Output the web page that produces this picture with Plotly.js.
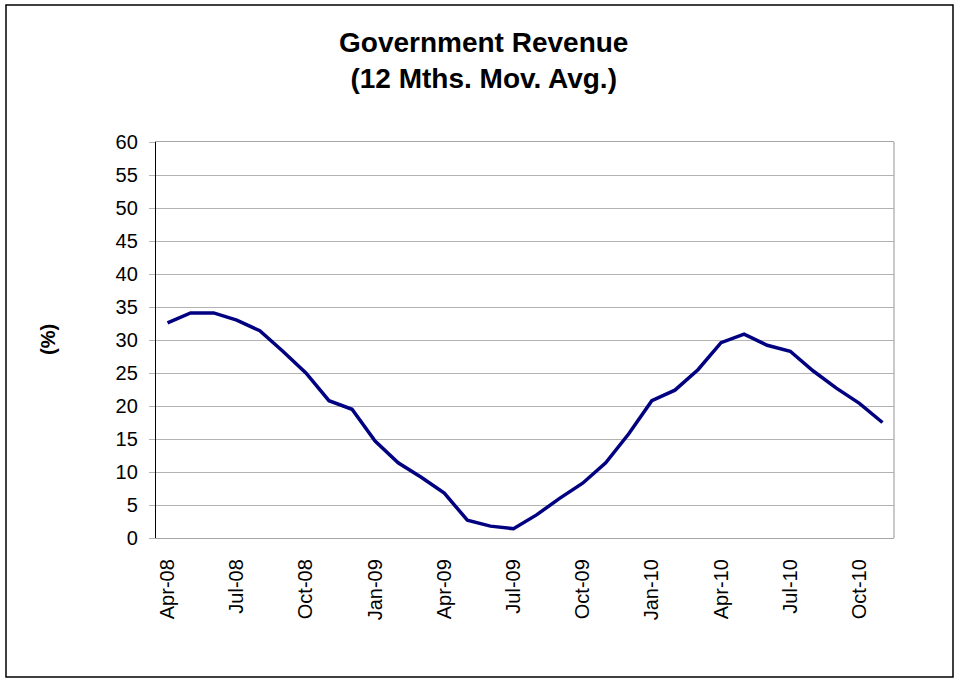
<!DOCTYPE html>
<html>
<head>
<meta charset="utf-8">
<script src="https://cdn.plot.ly/plotly-3.0.1.min.js"></script>
<style>
html,body{margin:0;padding:0;background:#fff;}
#chart{width:956px;height:679px;}
</style>
</head>
<body>
<div id="chart"></div>
<script>
const months = ["Apr-08","May-08","Jun-08","Jul-08","Aug-08","Sep-08","Oct-08","Nov-08","Dec-08",
  "Jan-09","Feb-09","Mar-09","Apr-09","May-09","Jun-09","Jul-09","Aug-09","Sep-09","Oct-09","Nov-09","Dec-09",
  "Jan-10","Feb-10","Mar-10","Apr-10","May-10","Jun-10","Jul-10","Aug-10","Sep-10","Oct-10","Nov-10"];
const revenue = [32.6,34.1,34.1,33.0,31.4,28.3,25.0,20.8,19.5,
  14.7,11.4,9.2,6.8,2.7,1.8,1.4,3.5,6.0,8.3,11.4,15.8,
  20.8,22.4,25.5,29.6,30.9,29.2,28.3,25.3,22.7,20.4,17.5];
const tickLabels = ["Apr-08","Jul-08","Oct-08","Jan-09","Apr-09","Jul-09","Oct-09","Jan-10","Apr-10","Jul-10","Oct-10"];
const yTicks = [0,5,10,15,20,25,30,35,40,45,50,55,60];

const W = 956, H = 679;
const m = {l:156, r:62, t:142, b:141};
const pw = W - m.l - m.r, ph = H - m.t - m.b;
const px = v => (v - m.l) / pw;
const py = v => (H - m.b - v) / ph;

const trace = {
  x: months, y: revenue, type: 'scatter', mode: 'lines',
  line: {color: '#000080', width: 3.5},
  hoverinfo: 'x+y'
};

const layout = {
  width: W, height: H,
  margin: m,
  paper_bgcolor: '#fff', plot_bgcolor: '#fff',
  showlegend: false,
  font: {family: 'Liberation Sans, Arial, sans-serif', color: '#000', size: 20},
  xaxis: {
    type: 'category',
    categoryorder: 'array', categoryarray: months,
    tickmode: 'array', tickvals: tickLabels, ticktext: tickLabels,
    tickangle: -90,
    tickfont: {size: 20},
    ticklabelstandoff: 12,
    showgrid: false,
    showline: true, linecolor: '#a6a6a6', linewidth: 1.2, mirror: true,
    ticks: '', zeroline: false,
    range: [-0.5, months.length - 0.5]
  },
  yaxis: {
    range: [0, 60],
    tickmode: 'array', tickvals: yTicks,
    tickfont: {size: 20},
    ticklabelstandoff: 7,
    showgrid: true, gridcolor: '#b3b3b3', gridwidth: 1,
    showline: true, linecolor: '#000', linewidth: 1.2,
    ticks: 'outside', ticklen: 6, tickcolor: '#b3b3b3',
    zeroline: false
  },
  annotations: [
    {
      text: '<b>Government Revenue<br>(12 Mths. Mov. Avg.)</b>',
      xref: 'paper', yref: 'paper', x: px(483), y: py(61),
      xanchor: 'center', yanchor: 'middle', showarrow: false,
      font: {size: 28}
    },
    {
      text: '<b>(%)</b>', xref: 'paper', yref: 'paper',
      x: px(48), y: py(340), showarrow: false, textangle: -90,
      font: {size: 20}, xanchor: 'center', yanchor: 'middle'
    }
  ],
  shapes: [
    {type: 'line', xref: 'paper', yref: 'paper', x0: 1, x1: 1, y0: 0, y1: 1,
     line: {color: '#a6a6a6', width: 1.2}},
    {type: 'rect', xref: 'paper', yref: 'paper',
     x0: px(6), x1: px(953), y0: py(677), y1: py(5),
     line: {color: '#000', width: 1.5}}
  ]
};

Plotly.newPlot('chart', [trace], layout, {displayModeBar: false, staticPlot: true});
</script>
</body>
</html>
